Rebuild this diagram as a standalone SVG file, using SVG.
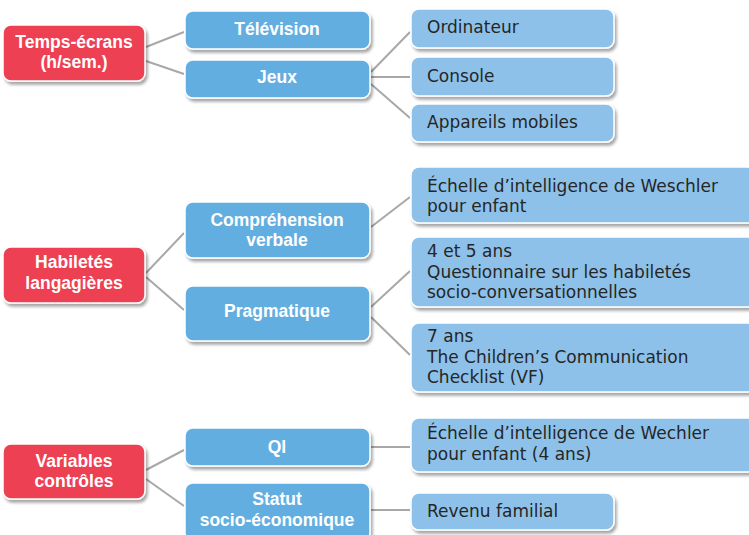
<svg xmlns="http://www.w3.org/2000/svg" width="749" height="535" viewBox="0 0 749 535">
<defs>
<filter id="sh" x="-10%" y="-20%" width="130%" height="160%">
<feDropShadow dx="2" dy="3" stdDeviation="1.6" flood-color="#000" flood-opacity="0.35"/>
</filter>
</defs>
<style>
.r{fill:#EE4152;stroke:#fff;stroke-width:1.5;filter:url(#sh)}
.m{fill:#63AEE0;stroke:#fff;stroke-width:1.5;filter:url(#sh)}
.l{fill:#8DC1E9;stroke:#fff;stroke-width:1.5;filter:url(#sh)}
.wt{font-family:"Liberation Sans",Arial,sans-serif;font-weight:bold;font-size:17.5px;fill:#fff;text-anchor:middle}
.dt{font-family:"DejaVu Sans",sans-serif;font-size:17px;fill:#262626}
.c line{stroke:#A8A8A8;stroke-width:2}
</style>
<g class="c" id="connectors">
<line x1="146" y1="47" x2="184" y2="32"/>
<line x1="146" y1="61" x2="184" y2="74"/>
<line x1="371" y1="72" x2="410" y2="32"/>
<line x1="371" y1="77" x2="410" y2="77"/>
<line x1="371" y1="84" x2="410" y2="118"/>
<line x1="146" y1="273" x2="184" y2="233"/>
<line x1="146" y1="277" x2="184" y2="310"/>
<line x1="371" y1="227" x2="410" y2="197"/>
<line x1="371" y1="307" x2="410" y2="271"/>
<line x1="371" y1="317" x2="410" y2="355"/>
<line x1="146" y1="470" x2="184" y2="450"/>
<line x1="146" y1="479" x2="184" y2="506"/>
<line x1="371" y1="447" x2="410" y2="447"/>
<line x1="371" y1="510" x2="410" y2="510"/>
</g>
<g id="temps"><rect class="r" x="3" y="25" width="142" height="56" rx="8"/><text class="wt" x="74" y="48">Temps-écrans</text><text class="wt" x="74" y="68">(h/sem.)</text></g>
<g id="tele"><rect class="m" x="185" y="11" width="185" height="38" rx="8"/><text class="wt" x="277" y="35">Télévision</text></g>
<g id="jeux"><rect class="m" x="185" y="60" width="185" height="38" rx="8"/><text class="wt" x="277" y="83">Jeux</text></g>
<g id="ordi"><rect class="l" x="411" y="9" width="203" height="39" rx="8"/><text class="dt" x="427" y="33">Ordinateur</text></g>
<g id="console"><rect class="l" x="411" y="57" width="203" height="39" rx="8"/><text class="dt" x="427" y="82">Console</text></g>
<g id="mobiles"><rect class="l" x="411" y="104" width="203" height="38" rx="8"/><text class="dt" x="427" y="128">Appareils mobiles</text></g>
<g id="habiletes"><rect class="r" x="3" y="247" width="142" height="56" rx="8"/><text class="wt" x="74" y="268">Habiletés</text><text class="wt" x="74" y="289">langagières</text></g>
<g id="comprehension"><rect class="m" x="185" y="202" width="185" height="56" rx="8"/><text class="wt" x="277" y="226">Compréhension</text><text class="wt" x="277" y="246">verbale</text></g>
<g id="pragmatique"><rect class="m" x="185" y="286" width="185" height="55" rx="8"/><text class="wt" x="277" y="317">Pragmatique</text></g>
<g id="wisc"><rect class="l" x="411" y="167" width="345" height="56" rx="8"/><text class="dt" x="427" y="192">Échelle d’intelligence de Weschler</text><text class="dt" x="427" y="212">pour enfant</text></g>
<g id="quest"><rect class="l" x="411" y="237" width="345" height="70" rx="8"/><text class="dt" x="427" y="257">4 et 5 ans</text><text class="dt" x="427" y="278">Questionnaire sur les habiletés</text><text class="dt" x="427" y="298">socio-conversationnelles</text></g>
<g id="ccc"><rect class="l" x="411" y="323" width="345" height="69" rx="8"/><text class="dt" x="427" y="342">7 ans</text><text class="dt" x="427" y="363">The Children’s Communication</text><text class="dt" x="427" y="383">Checklist (VF)</text></g>
<g id="variables"><rect class="r" x="3" y="444" width="142" height="55" rx="8"/><text class="wt" x="74" y="467">Variables</text><text class="wt" x="74" y="487">contrôles</text></g>
<g id="qi"><rect class="m" x="185" y="428" width="185" height="38" rx="8"/><text class="wt" x="277" y="453">QI</text></g>
<g id="statut"><rect class="m" x="185" y="483" width="185" height="58" rx="8"/><text class="wt" x="277" y="505">Statut</text><text class="wt" x="277" y="526">socio-économique</text></g>
<g id="wisc4"><rect class="l" x="411" y="418" width="345" height="54" rx="8"/><text class="dt" x="427" y="439">Échelle d’intelligence de Wechler</text><text class="dt" x="427" y="460">pour enfant (4 ans)</text></g>
<g id="revenu"><rect class="l" x="411" y="493" width="203" height="37" rx="8"/><text class="dt" x="427" y="517">Revenu familial</text></g>
</svg>
